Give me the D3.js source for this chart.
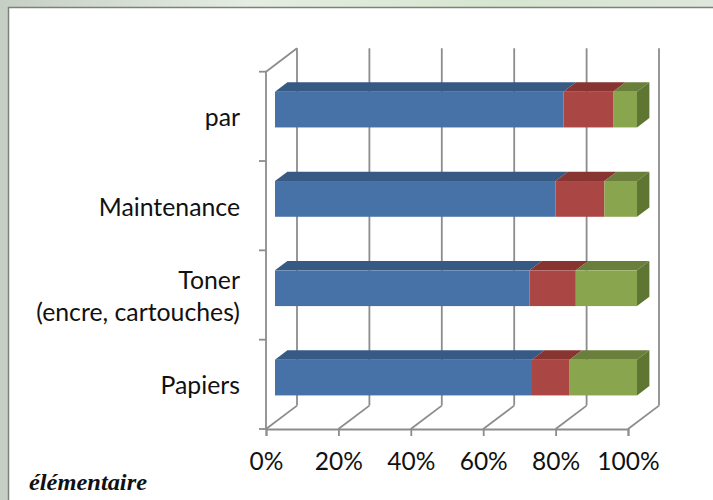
<!DOCTYPE html>
<html lang="fr">
<head>
    <meta charset="UTF-8">
    <title>Répartition des coûts</title>
    <style>
        body { margin: 0; background: #fff; }
        svg { display: block; }
        .cat, .tick text { font-family: Lato, "Open Sans", sans-serif; fill: #111; }
    </style>
</head>
<body>
    <svg id="chart" width="713" height="500"></svg>
    <script src="https://cdnjs.cloudflare.com/ajax/libs/d3/7.8.5/d3.min.js"></script>
    <script>
        // categories, top to bottom
        const categories = ['par', 'Maintenance', 'Toner', 'Papiers'];
        const catLabels = [['par'], ['Maintenance'], ['Toner', '(encre, cartouches)'], ['Papiers']];
        const seriesNames = ['Série 1', 'Série 2', 'Série 3'];
        const serie1 = [79.7, 77.5, 70.3, 71.0];
        const serie2 = [13.7, 13.5, 12.8, 10.4];
        const serie3 = [6.6, 9.0, 16.9, 18.6];
        const tickValues = [0, 0.2, 0.4, 0.6, 0.8, 1];

        const front = ['#4672a7', '#aa4643', '#89a54e'];
        const topc = ['#365a84', '#883431', '#6a7f3c'];
        const side = '#5f7532';

        const svg = d3.select('#chart');

        // background outside the chart frame
        const defs = svg.append('defs');
        const grad = defs.append('linearGradient').attr('id', 'bg');
        grad.append('stop').attr('offset', '0%').attr('stop-color', '#c6cfc3');
        grad.append('stop').attr('offset', '35%').attr('stop-color', '#e4ede1');
        grad.append('stop').attr('offset', '70%').attr('stop-color', '#d6e6d0');
        grad.append('stop').attr('offset', '100%').attr('stop-color', '#dfe6dc');
        svg.append('rect').attr('width', 713).attr('height', 500).attr('fill', 'url(#bg)');
        svg.append('rect').attr('x', 8.5).attr('y', 7.5).attr('width', 720).attr('height', 510)
            .attr('fill', '#fff').attr('stroke', '#7f7f7f').attr('stroke-width', 1.5);

        // 3d setup
        const depth = { dx: 31, dy: -23.4 };
        const x = d3.scaleLinear().domain([0, 1]).range([266, 628]);
        const y = d3.scaleBand().domain(categories).range([71.7, 429]).paddingInner(0).paddingOuter(0);
        const proj = (px, py, z) => [px + z * depth.dx, py + z * depth.dy];
        const zFront = 0.29, zBack = 0.69;

        const grid = svg.append('g').attr('stroke', '#8c8c8c').attr('stroke-width', 1.8).attr('fill', 'none');
        // back wall gridlines
        tickValues.forEach(t => {
            const [bx, by] = proj(x(t), 429, 1);
            const [tx, ty] = proj(x(t), 71.7, 1);
            grid.append('line').attr('x1', bx).attr('y1', by).attr('x2', tx).attr('y2', ty);
            // floor
            grid.append('line').attr('x1', x(t)).attr('y1', 429).attr('x2', bx).attr('y2', by);
        });
        // left wall: front axis line and top diagonal
        const [ltx, lty] = proj(x(0), 71.7, 1);
        grid.append('line').attr('x1', x(0)).attr('y1', 71.7).attr('x2', ltx).attr('y2', lty);
        grid.append('line').attr('x1', x(0)).attr('y1', 71.7).attr('x2', x(0)).attr('y2', 429);
        const bounds = categories.map(c => y(c)).concat([429]);
        bounds.forEach(b => {
            grid.append('line').attr('x1', x(0) - 7).attr('y1', b).attr('x2', x(0)).attr('y2', b);
        });

        // x axis (front baseline)
        const xAxis = svg.append('g').attr('transform', 'translate(0,429)')
            .call(d3.axisBottom(x).tickValues(tickValues).tickFormat(d3.format('.0%')).tickSize(7).tickPadding(17));
        xAxis.selectAll('path, line').attr('stroke', '#8c8c8c').attr('stroke-width', 1.8);
        xAxis.selectAll('text').attr('font-size', 24.5).attr('font-family', 'Lato, sans-serif').attr('fill', '#111');

        // category labels
        catLabels.forEach((lines, i) => {
            const cy = y(categories[i]) + y.bandwidth() / 2;
            const t = svg.append('text').attr('class', 'cat').attr('text-anchor', 'end')
                .attr('font-size', 24.8).attr('x', 240);
            const lh = 32;
            const first = cy + 10 - (lines.length - 1) * lh / 2;
            lines.forEach((l, j) => t.append('tspan').attr('x', 240).attr('y', first + j * lh).text(l));
        });

        // stacked bars
        const rows = categories.map((c, i) => ({ cat: c, s0: serie1[i], s1: serie2[i], s2: serie3[i] }));
        const stack = d3.stack().keys(['s0', 's1', 's2']).offset(d3.stackOffsetExpand)(rows);
        const barH = y.bandwidth() * 0.4;
        const bars = svg.append('g');
        rows.forEach((r, i) => {
            const cy = y(r.cat) + y.bandwidth() / 2;
            const yT = cy - barH / 2, yB = cy + barH / 2;
            stack.forEach((s, k) => {
                const [v0, v1] = s[i];
                const x0 = x(v0), x1 = x(v1);
                const p = (px, py, z) => proj(px, py, z).join(',');
                // top face
                bars.append('polygon')
                    .attr('points', [p(x0, yT, zFront), p(x1, yT, zFront), p(x1, yT, zBack), p(x0, yT, zBack)].join(' '))
                    .attr('fill', topc[k]);
                // front face
                const [fx0, fy0] = proj(x0, yT, zFront);
                const [fx1] = proj(x1, yT, zFront);
                bars.append('rect').attr('x', fx0).attr('y', fy0).attr('width', fx1 - fx0).attr('height', barH)
                    .attr('fill', front[k]);
                if (k === stack.length - 1) {
                    bars.append('polygon')
                        .attr('points', [p(x1, yT, zFront), p(x1, yT, zBack), p(x1, yB, zBack), p(x1, yB, zFront)].join(' '))
                        .attr('fill', side);
                }
            });
        });

        // caption below the chart
        svg.append('text').attr('x', 29).attr('y', 490)
            .attr('font-family', '"Liberation Serif", "DejaVu Serif", serif')
            .attr('font-style', 'italic').attr('font-weight', 'bold').attr('font-size', 24)
            .attr('textLength', 118).attr('lengthAdjust', 'spacingAndGlyphs')
            .attr('fill', '#111').text('élémentaire');
    </script>
</body>
</html>
